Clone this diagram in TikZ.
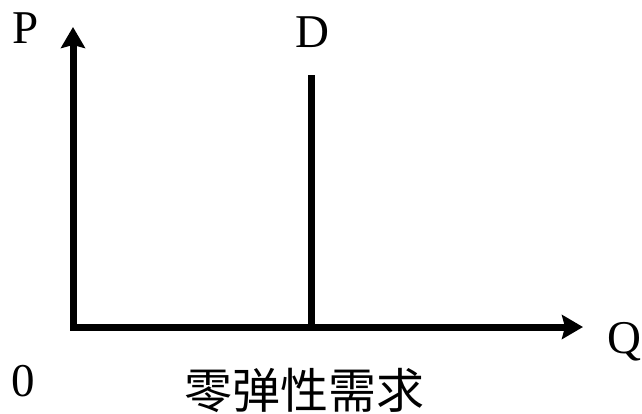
\documentclass[tikz,border=0pt]{standalone}
\usepackage{fontspec}
\setmainfont{Liberation Serif}
\newfontfamily\cjk{Noto Sans CJK SC}
\usetikzlibrary{arrows.meta}
\begin{document}
\begin{tikzpicture}[x=1pt,y=-1pt,
  axis/.style={line width=7pt,line join=miter,
    arrows={Stealth[length=21pt,width=24pt,inset=3pt]-Stealth[length=21pt,width=24pt,inset=3pt]}},
  dline/.style={line width=7pt},
  lbl/.style={inner sep=0pt,anchor=base,font=\fontsize{47}{50}\selectfont},
  captext/.style={inner sep=0pt,anchor=base,font=\cjk\fontsize{48}{52}\selectfont}]
\useasboundingbox (0,0) rectangle (642,413);
\coordinate (O) at (73,327);
\coordinate (ytip) at (73,27);
\coordinate (xtip) at (583,327);
\coordinate (dtop) at (311,75);
\coordinate (dbot) at (311,327);
\draw[axis] (ytip) -- (O) -- (xtip);
\draw[dline] (dtop) -- (dbot);
\node[lbl] (P) at (25.5,43) {P};
\node[lbl] (D) at (312,47) {D};
\node[lbl] (Q) at (624,353) {Q};
\node[lbl] (zero) at (23.5,396) {0};
\node[captext] (title) at (304,408) {零弹性需求};
\end{tikzpicture}
\end{document}
